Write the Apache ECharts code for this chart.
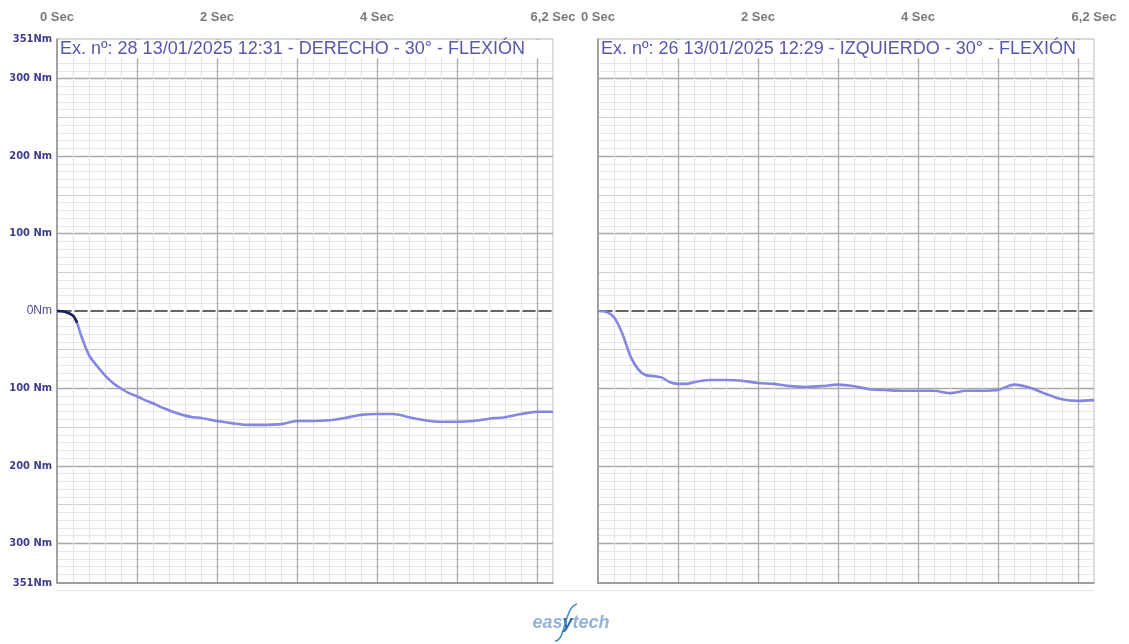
<!DOCTYPE html>
<html><head><meta charset="utf-8">
<script src="https://cdn.jsdelivr.net/npm/echarts@6/dist/echarts.min.js"></script>
<style>html,body{margin:0;padding:0;background:#fff}#c{width:1129px;height:644px}</style>
</head><body><div id="c"></div>
<script>
// ---- data ----
const xTickValues = [0, 2, 4, 6.2];
const yLabelValues = [-351, -300, -200, -100, 0, 100, 200, 300, 351];
const chartTitles = [
  'Ex. nº: 28 13/01/2025 12:31 - DERECHO - 30° - FLEXIÓN',
  'Ex. nº: 26 13/01/2025 12:29 - IZQUIERDO - 30° - FLEXIÓN'
];
const leftTimes  = [0, 0.1, 0.2, 0.25, 0.3, 0.4, 0.5, 0.6, 0.7, 0.8, 0.9, 1.0, 1.1, 1.2, 1.3, 1.4, 1.5, 1.6, 1.7, 1.8, 1.9, 2.0, 2.2, 2.4, 2.6, 2.8, 3.0, 3.2, 3.4, 3.6, 3.8, 4.0, 4.2, 4.4, 4.6, 4.8, 5.0, 5.2, 5.4, 5.6, 5.8, 6.0, 6.2];
const leftValues = [0, -1, -6, -15, -31, -57, -71, -83, -93, -100, -106, -110, -115, -119, -124, -128, -132, -135, -137, -138, -140, -142, -145, -147, -147, -146, -142, -142, -141, -138, -134, -133, -133, -137, -141, -143, -143, -142, -139, -137, -133, -130, -130];
const leftDarkCount = 4;
const rightTimes  = [0, 0.1, 0.2, 0.3, 0.4, 0.5, 0.6, 0.7, 0.8, 0.9, 1.0, 1.1, 1.2, 1.3, 1.4, 1.6, 1.8, 2.0, 2.2, 2.4, 2.6, 2.8, 3.0, 3.2, 3.4, 3.6, 3.8, 4.0, 4.2, 4.4, 4.6, 4.8, 5.0, 5.2, 5.4, 5.6, 5.8, 6.0, 6.2];
const rightValues = [0, -1, -8, -28, -57, -75, -83, -84, -86, -92, -94, -94, -92, -90, -89, -89, -90, -93, -94, -97, -98, -97, -95, -97, -101, -102, -103, -103, -103, -106, -103, -103, -102, -95, -99, -107, -114, -116, -115];

// ---- grid line positions ----
function range(a, b, s) { const r = []; for (let v = a; v <= b + 1e-9; v += s) r.push(Math.round(v * 1000) / 1000); return r; }
const xMinorTicks = range(0, 6.2, 0.2);
const xMajorTicks = range(1, 6, 1);
const yMinorTicks = range(-350, 350, 10);
const yMidTicks = [-350, -250, -150, -50, 50, 150, 250, 350];
const yMajorTicks = [-300, -200, -100, 100, 200, 300];

const chart = echarts.init(document.getElementById('c'), null, {renderer: 'canvas'});
const gridLefts = [57, 598];
const PW = 496, PT = 39, PH = 544;
const labelFont = '"DejaVu Sans Condensed", "Liberation Sans", sans-serif';

const grids = [], xAxes = [], yAxes = [], series = [], graphics = [];
gridLefts.forEach((gl, g) => {
  grids.push({left: gl, top: PT, width: PW, height: PH, show: true, borderColor: '#b4b4b4', borderWidth: 1, containLabel: false});
  const xb = {gridIndex: g, type: 'value', min: 0, max: 6.2, axisLabel: {show: false}, axisTick: {show: false}, axisLine: {show: false}, splitLine: {show: false}};
  xAxes.push(Object.assign({}, xb, {
    position: 'top',
    axisTick: {show: false, customValues: xTickValues},
    axisLabel: {show: true, customValues: xTickValues, margin: 15, color: '#7a7a7a', fontWeight: 'bold', fontSize: 13, fontFamily: 'Liberation Sans',
      formatter: v => (v === 6.2 ? '6,2' : String(v)) + ' Sec'}
  }));
  xAxes.push(Object.assign({}, xb, {
    position: 'bottom',
    axisLine: {show: true, onZero: false, lineStyle: {color: '#8c8c8c', width: 1.5}},
    axisTick: {show: false, customValues: xMinorTicks},
    splitLine: {show: true, lineStyle: {color: '#e3e3e3', width: 1}}
  }));
  xAxes.push(Object.assign({}, xb, {
    position: 'bottom',
    axisTick: {show: false, customValues: xMajorTicks},
    splitLine: {show: true, lineStyle: {color: '#a9a9a9', width: 1.3}}
  }));
  const yb = {gridIndex: g, type: 'value', min: -351, max: 351, axisLabel: {show: false}, axisTick: {show: false}, axisLine: {show: false}, splitLine: {show: false}};
  yAxes.push(Object.assign({}, yb, {
    position: 'left',
    axisLine: {show: true, onZero: false, lineStyle: {color: '#8c8c8c', width: 1.5}},
    axisTick: {show: false, customValues: yLabelValues},
    axisLabel: {show: g === 0, customValues: yLabelValues, margin: 5, color: '#3d3d8f', fontSize: 11, fontWeight: 'bold', fontFamily: labelFont,
      formatter: v => v === 0 ? '{z|0Nm}' : (Math.abs(v) === 351 ? '351Nm' : Math.abs(v) + ' Nm'),
      rich: {z: {fontFamily: 'Liberation Sans', fontSize: 12, fontWeight: 'normal', color: '#4a4a92'}}}
  }));
  yAxes.push(Object.assign({}, yb, {position: 'left', axisTick: {show: false, customValues: yMinorTicks}, splitLine: {show: true, lineStyle: {color: '#e6e6e6', width: 1}}}));
  yAxes.push(Object.assign({}, yb, {position: 'left', axisTick: {show: false, customValues: yMidTicks}, splitLine: {show: true, lineStyle: {color: '#cfcfcf', width: 1}}}));
  yAxes.push(Object.assign({}, yb, {position: 'left', axisTick: {show: false, customValues: yMajorTicks}, splitLine: {show: true, lineStyle: {color: '#a9a9a9', width: 1.3}}}));
  yAxes.push(Object.assign({}, yb, {position: 'left', axisTick: {show: false, customValues: [0]}, splitLine: {show: true, lineStyle: {color: '#656565', width: 2.2, type: [13, 3], dashOffset: 14.5}}}));

  graphics.push({type: 'rect', z: 50, shape: {x: gl + 1, y: PT + 1, width: PW - 2, height: 18}, style: {fill: '#fff'}});
  graphics.push({type: 'text', z: 51, x: gl + 3, y: PT + 10, style: {text: chartTitles[g], fill: '#5757b0', font: '18px "Liberation Sans", Arial, sans-serif', textVerticalAlign: 'middle', verticalAlign: 'middle'}});
});

const lineStyle = {color: '#8585e2', width: 2.6};
const leftData = leftTimes.map((t, i) => [t, leftValues[i]]);
const rightData = rightTimes.map((t, i) => [t, rightValues[i]]);
series.push({type: 'line', xAxisIndex: 0, yAxisIndex: 0, data: leftData, showSymbol: false, smooth: 0.3, lineStyle, z: 5, silent: true});
series.push({type: 'line', xAxisIndex: 0, yAxisIndex: 0, data: leftData.slice(0, leftDarkCount), showSymbol: false, smooth: 0.3, lineStyle: {color: '#1d1d55', width: 2.6}, z: 6, silent: true});
series.push({type: 'line', xAxisIndex: 3, yAxisIndex: 5, data: rightData, showSymbol: false, smooth: 0.3, lineStyle, z: 5, silent: true});

graphics.push({type: 'line', shape: {x1: 57, y1: 590.5, x2: 1094, y2: 590.5}, style: {stroke: '#e4e4e4', lineWidth: 1}});
graphics.push({type: 'text', x: 571, y: 623, style: {text: '{a|eas}{b|y}{a|tech}', rich: {a: {fill: '#93b2da', font: 'italic bold 18px "Liberation Sans", Arial', fontStyle: 'italic', fontWeight: 'bold', fontSize: 18}, b: {fill: '#2f64a6', font: 'italic bold 18px "Liberation Sans", Arial', fontStyle: 'italic', fontWeight: 'bold', fontSize: 18}}, align: 'center', verticalAlign: 'middle', textAlign: 'center', textVerticalAlign: 'middle'}});
graphics.push({type: 'bezierCurve', shape: {x1: 555, y1: 641, cpx1: 566, cpy1: 641, cpx2: 564, cpy2: 607, x2: 577, y2: 604}, style: {stroke: '#3a8fc2', lineWidth: 1.5, fill: null}});

chart.setOption({
  animation: false,
  backgroundColor: '#fff',
  grid: grids,
  xAxis: xAxes,
  yAxis: yAxes,
  series: series,
  graphic: {elements: graphics}
});
</script></body></html>
